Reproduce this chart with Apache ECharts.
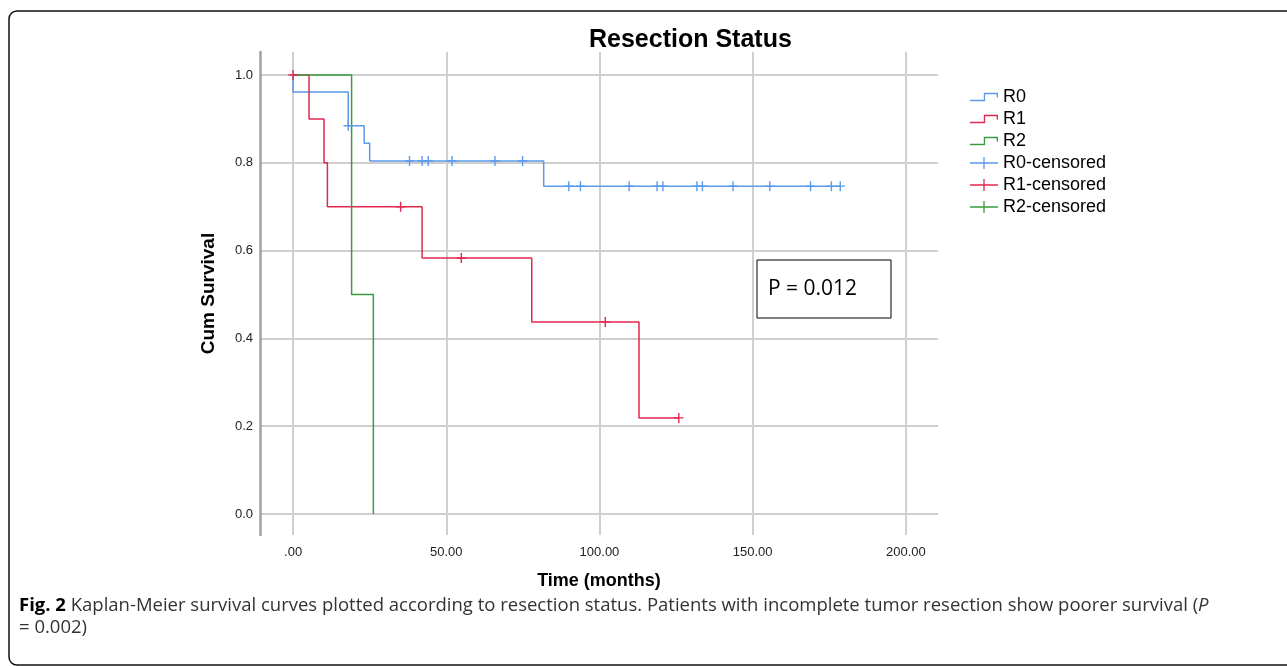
<!DOCTYPE html>
<html><head><meta charset="utf-8">
<script src="https://cdn.jsdelivr.net/npm/echarts@6/dist/echarts.min.js"></script>
<style>html,body{margin:0;padding:0;background:#fff;} #c{width:1287px;height:666px;}</style>
</head><body><div id="c"></div>
<script>
// ---- data ----
const xTickValues = [0, 50, 100, 150, 200];
const yTickValues = [0, 0.2, 0.4, 0.6, 0.8, 1.0];

const r0Time = [0, 0, 18, 23.2, 25, 81.8, 178.6];
const r0Surv = [1, 0.9615, 0.8846, 0.8444, 0.8042, 0.7468, 0.7468];
const r0CensTime = [18, 38, 42.1, 44.1, 51.9, 65.9, 74.9, 90, 93.8, 109.7, 118.8, 120.7, 131.8, 133.6, 143.6, 155.6, 168.9, 175.7, 178.6];
const r0CensSurv = [0.8846, 0.8042, 0.8042, 0.8042, 0.8042, 0.8042, 0.8042, 0.7468, 0.7468, 0.7468, 0.7468, 0.7468, 0.7468, 0.7468, 0.7468, 0.7468, 0.7468, 0.7468, 0.7468];

const r1Time = [0, 5.2, 10.1, 11.2, 42.1, 77.9, 112.9, 125.9];
const r1Surv = [1, 0.9, 0.8, 0.7, 0.5833, 0.4375, 0.2188, 0.2188];
const r1CensTime = [0, 35.1, 54.9, 101.9, 125.9];
const r1CensSurv = [1, 0.7, 0.5833, 0.4375, 0.2188];

const r2Time = [0, 19.1, 26.2];
const r2Surv = [1, 0.5, 0];
const r2CensTime = [];
const r2CensSurv = [];

const seriesNames = ['R0', 'R1', 'R2', 'R0-censored', 'R1-censored', 'R2-censored'];

// ---- styling ----
const cBlue = '#5b9bea', cRed = '#e3284f', cGreen = '#3d9a3d';
const stepIcon = 'path://M0,6.7H13.3V0H27V4.5H25.7V1.3H14.6V8H0Z';
const crossIcon = 'path://M0,5.35H28V6.65H0Z M13.35,0H14.65V12H13.35Z';
const censorSymbol = 'path://M0,4.3H9.4V5.7H0Z M4,0H5.4V10H4Z';

function pairs(t, s) { return t.map((v, i) => [v, s[i]]); }

const chart = echarts.init(document.getElementById('c'), null, {renderer: 'canvas'});
function lineSeries(name, t, s, color) {
  return {name, type: 'line', step: 'end', data: pairs(t, s), showSymbol: false, symbol: 'none',
    lineStyle: {color, width: 1.5}, itemStyle: {color}, animation: false, z: 3};
}
function censSeries(name, t, s, color) {
  return {name, type: 'scatter', data: pairs(t, s), symbol: censorSymbol, symbolSize: [9.4, 10],
    itemStyle: {color, opacity: 1}, animation: false, z: 4};
}

chart.setOption({
  animation: false,
  backgroundColor: '#fff',
  title: {text: 'Resection Status', left: 584, top: 23,
    textStyle: {fontFamily: 'Liberation Sans', fontWeight: 'bold', fontSize: 25, color: '#000'}},
  grid: {left: 260, right: 349, top: 52, bottom: 131, containLabel: false, outerBoundsMode: 'none'},
  legend: {
    orient: 'vertical', left: 965, top: 83, itemWidth: 28, itemHeight: 12, itemGap: 4,
    selectedMode: false, symbolKeepAspect: true,
    textStyle: {fontFamily: 'Liberation Sans', fontSize: 18, color: '#000'},
    data: [
      {name: 'R0', icon: stepIcon}, {name: 'R1', icon: stepIcon}, {name: 'R2', icon: stepIcon},
      {name: 'R0-censored', icon: crossIcon}, {name: 'R1-censored', icon: crossIcon}, {name: 'R2-censored', icon: crossIcon}
    ]
  },
  xAxis: {
    type: 'value', min: -10.8, max: 210.5,
    name: 'Time (months)', nameLocation: 'middle', nameGap: 37,
    nameTextStyle: {fontFamily: 'Liberation Sans', fontWeight: 'bold', fontSize: 18, color: '#000'},
    axisLine: {show: false}, axisTick: {show: false, customValues: xTickValues},
    axisLabel: {customValues: xTickValues, margin: 11, fontFamily: 'Liberation Sans', fontSize: 13, color: '#222',
      formatter: v => v === 0 ? '.00' : v.toFixed(2)},
    splitLine: {show: true, lineStyle: {color: '#cfcfcf', width: 2}}
  },
  yAxis: {
    type: 'value', min: -0.048, max: 1.0525,
    name: 'Cum Survival', nameLocation: 'middle', nameGap: 42, nameRotate: 90,
    nameTextStyle: {fontFamily: 'Liberation Sans', fontWeight: 'bold', fontSize: 19, color: '#000'},
    axisLine: {show: true, onZero: false, lineStyle: {color: '#a0a0a0', width: 2.5}},
    axisTick: {show: false, customValues: yTickValues},
    axisLabel: {customValues: yTickValues, margin: 7, fontFamily: 'Liberation Sans', fontSize: 13, color: '#222',
      formatter: v => v.toFixed(1)},
    splitLine: {show: true, lineStyle: {color: '#cfcfcf', width: 2}}
  },
  series: [
    lineSeries(seriesNames[0], r0Time, r0Surv, cBlue),
    lineSeries(seriesNames[1], r1Time, r1Surv, cRed),
    lineSeries(seriesNames[2], r2Time, r2Surv, cGreen),
    censSeries(seriesNames[3], r0CensTime, r0CensSurv, cBlue),
    censSeries(seriesNames[4], r1CensTime, r1CensSurv, cRed),
    censSeries(seriesNames[5], r2CensTime, r2CensSurv, cGreen)
  ],
  graphic: [
    {type: 'rect', shape: {x: 9, y: 11, width: 1300, height: 654, r: 8}, style: {fill: 'none', stroke: '#111', lineWidth: 1.5}, silent: true},
    {type: 'rect', shape: {x: 757, y: 260, width: 134, height: 58}, style: {fill: '#fff', stroke: '#000', lineWidth: 1}, z: 10},
    {type: 'text', x: 768, y: 289, z: 11, style: {text: 'P = 0.012', fontFamily: 'Open Sans', fontSize: 21, fill: '#000', verticalAlign: 'middle'}},
    {type: 'text', x: 19, y: 595, z: 11, style: {
      text: '{b|Fig. 2} Kaplan-Meier survival curves plotted according to resection status. Patients with incomplete tumor resection show poorer survival ({i|P}\n= 0.002)',
      fontFamily: 'Open Sans', fontSize: 18.5, fill: '#333', lineHeight: 22,
      rich: {b: {fontFamily: 'Open Sans', fontWeight: 'bold', fontSize: 18.5, fill: '#000', lineHeight: 22},
             i: {fontFamily: 'Open Sans', fontStyle: 'italic', fontSize: 18.5, fill: '#333', lineHeight: 22}}
    }}
  ]
});
</script></body></html>
